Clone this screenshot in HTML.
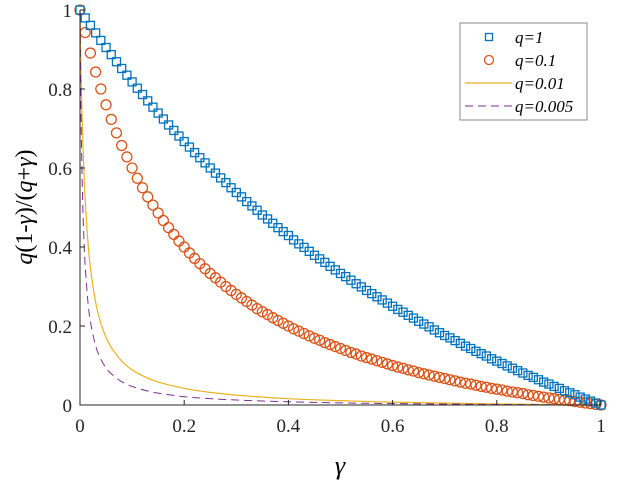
<!DOCTYPE html>
<html><head><meta charset="utf-8"><style>
html,body{margin:0;padding:0;background:#fff;}
svg{display:block;font-family:"Liberation Serif",serif;}
</style></head><body>
<svg id="chart" width="621" height="487" viewBox="0 0 621 487">
<g id="marks"></g>
<g id="axes"></g>
<g>
<rect x="460" y="23" width="127" height="97" fill="#fff" stroke="#888" stroke-width="1"/>
<rect x="485.5" y="33.5" width="7" height="7" fill="none" stroke="#0072BD" stroke-width="1.3"/>
<text x="515" y="43" font-size="17" font-style="italic">q=1</text>
<circle cx="489" cy="60" r="4.5" fill="none" stroke="#D95319" stroke-width="1.3"/>
<text x="515" y="66" font-size="17" font-style="italic">q=0.1</text>
<line x1="465" y1="83" x2="512" y2="83" stroke="#EDB120" stroke-width="1.3"/>
<text x="515" y="89" font-size="17" font-style="italic">q=0.01</text>
<line x1="465" y1="106" x2="512" y2="106" stroke="#7E2F8E" stroke-width="1" stroke-dasharray="8,5"/>
<text x="515" y="112" font-size="17" font-style="italic">q=0.005</text>
</g>
<text x="340" y="474" font-size="26" text-anchor="middle" font-style="italic">γ</text>
<text transform="translate(32,207) rotate(-90)" font-size="24" text-anchor="middle"><tspan font-style="italic">q</tspan>(1-<tspan font-style="italic">γ</tspan>)/(<tspan font-style="italic">q</tspan>+<tspan font-style="italic">γ</tspan>)</text>
</svg>
<script>
const markerGamma = [0,0.01,0.02,0.03,0.04,0.05,0.06,0.07,0.08,0.09,0.1,0.11,0.12,0.13,0.14,0.15,0.16,0.17,0.18,0.19,0.2,0.21,0.22,0.23,0.24,0.25,0.26,0.27,0.28,0.29,0.3,0.31,0.32,0.33,0.34,0.35,0.36,0.37,0.38,0.39,0.4,0.41,0.42,0.43,0.44,0.45,0.46,0.47,0.48,0.49,0.5,0.51,0.52,0.53,0.54,0.55,0.56,0.57,0.58,0.59,0.6,0.61,0.62,0.63,0.64,0.65,0.66,0.67,0.68,0.69,0.7,0.71,0.72,0.73,0.74,0.75,0.76,0.77,0.78,0.79,0.8,0.81,0.82,0.83,0.84,0.85,0.86,0.87,0.88,0.89,0.9,0.91,0.92,0.93,0.94,0.95,0.96,0.97,0.98,0.99,1];
const seriesQ1 = [1,0.980,0.961,0.942,0.923,0.905,0.887,0.869,0.852,0.835,0.818,0.802,0.786,0.770,0.754,0.739,0.724,0.709,0.695,0.681,0.667,0.653,0.639,0.626,0.613,0.6,0.587,0.575,0.563,0.550,0.538,0.527,0.515,0.504,0.493,0.481,0.471,0.460,0.449,0.439,0.429,0.418,0.408,0.399,0.389,0.379,0.370,0.361,0.351,0.342,0.333,0.325,0.316,0.307,0.299,0.290,0.282,0.274,0.266,0.258,0.25,0.242,0.235,0.227,0.220,0.212,0.205,0.198,0.190,0.183,0.176,0.170,0.163,0.156,0.149,0.143,0.136,0.130,0.124,0.117,0.111,0.105,0.099,0.093,0.087,0.081,0.075,0.070,0.064,0.058,0.053,0.047,0.042,0.036,0.031,0.026,0.020,0.015,0.010,0.005,0];
const seriesQ01 = [1,0.943,0.891,0.843,0.8,0.76,0.723,0.689,0.657,0.628,0.6,0.574,0.55,0.527,0.506,0.486,0.467,0.449,0.432,0.415,0.4,0.385,0.371,0.358,0.345,0.333,0.322,0.311,0.3,0.290,0.28,0.271,0.262,0.253,0.244,0.236,0.229,0.221,0.214,0.207,0.2,0.193,0.187,0.181,0.175,0.169,0.164,0.158,0.153,0.148,0.143,0.138,0.133,0.129,0.124,0.12,0.116,0.112,0.108,0.104,0.1,0.096,0.093,0.089,0.086,0.082,0.079,0.076,0.073,0.070,0.067,0.064,0.061,0.058,0.055,0.053,0.05,0.047,0.045,0.042,0.04,0.038,0.035,0.033,0.031,0.029,0.026,0.024,0.022,0.020,0.018,0.016,0.014,0.012,0.011,0.0087,0.0069,0.0051,0.0034,0.0017,0];
const lineGamma = [0,0.0005,0.001,0.002,0.003,0.005,0.0075,0.01,0.015,0.02,0.03,0.04,0.05,0.06,0.08,0.1,0.125,0.15,0.2,0.25,0.3,0.4,0.5,0.6,0.8,1];
const seriesQ001 = [1,0.956,0.916,0.844,0.783,0.684,0.590,0.519,0.417,0.348,0.260,0.207,0.171,0.146,0.111,0.089,0.071,0.058,0.042,0.032,0.025,0.016,0.011,0.0072,0.0027,0];
const seriesQ0005 = [1,0.916,0.845,0.732,0.645,0.521,0.420,0.351,0.264,0.211,0.150,0.116,0.094,0.079,0.059,0.047,0.037,0.030,0.021,0.016,0.0126,0.0081,0.0054,0.0036,0.0014,0];
const xTicks = [0,0.2,0.4,0.6,0.8,1];
const xTickLabels = ["0","0.2","0.4","0.6","0.8","1"];
const yTicks = [0,0.2,0.4,0.6,0.8,1];
const yTickLabels = ["0","0.2","0.4","0.6","0.8","1"];

const NS = "http://www.w3.org/2000/svg";
const X0=80, X1=601, Y0=405, Y1=10;
function xs(v){return X0+(X1-X0)*v;}
function ys(v){return Y0-(Y0-Y1)*v;}
function mk(tag, attrs){const e=document.createElementNS(NS,tag);for(const k in attrs)e.setAttribute(k,attrs[k]);return e;}
const marks=document.getElementById('marks'), axes=document.getElementById('axes');

function smoothPath(gs, vs){
  const p=gs.map((g,i)=>[xs(g),ys(vs[i])]);
  let d='M'+p[0][0].toFixed(2)+','+p[0][1].toFixed(2);
  for(let i=0;i<p.length-1;i++){
    const p0=p[Math.max(0,i-1)],p1=p[i],p2=p[i+1],p3=p[Math.min(p.length-1,i+2)];
    const c1x=p1[0]+(p2[0]-p0[0])/6, c1y=p1[1]+(p2[1]-p0[1])/6;
    const c2x=p2[0]-(p3[0]-p1[0])/6, c2y=p2[1]-(p3[1]-p1[1])/6;
    d+=` C${c1x.toFixed(2)},${c1y.toFixed(2)} ${c2x.toFixed(2)},${c2y.toFixed(2)} ${p2[0].toFixed(2)},${p2[1].toFixed(2)}`;
  }
  return d;
}
const l1=mk('path',{d:smoothPath(lineGamma,seriesQ001),fill:'none',stroke:'#EDB120','stroke-width':1.2});


marks.appendChild(l1);
const l2=mk('path',{d:smoothPath(lineGamma,seriesQ0005),fill:'none',stroke:'#7E2F8E','stroke-width':1,'stroke-dasharray':'8,5'});


marks.appendChild(l2);

markerGamma.forEach((g,i)=>{
  const c=mk('circle',{cx:xs(g),cy:ys(seriesQ01[i]),r:5,fill:'none',stroke:'#D95319','stroke-width':1.3});
  
  
  marks.appendChild(c);
});
markerGamma.forEach((g,i)=>{
  const r=mk('rect',{x:xs(g)-4,y:ys(seriesQ1[i])-4,width:8,height:8,fill:'none',stroke:'#0072BD','stroke-width':1.3});
  
  
  marks.appendChild(r);
});

const ax=mk('path',{d:`M${X0},${Y1} L${X0},${Y0} L${X1},${Y0}`,fill:'none',stroke:'#262626','stroke-width':1});


axes.appendChild(ax);
xTicks.forEach((v,i)=>{
  const t=mk('line',{x1:xs(v),y1:Y0,x2:xs(v),y2:Y0-5,stroke:'#262626'});
  
  
  axes.appendChild(t);
  const tx=mk('text',{x:xs(v),y:Y0+27,'font-size':19,'text-anchor':'middle',fill:'#262626'});
  tx.textContent=xTickLabels[i];
  
  
  axes.appendChild(tx);
});
yTicks.forEach((v,i)=>{
  const t=mk('line',{x1:X0,y1:ys(v),x2:X0+5,y2:ys(v),stroke:'#262626'});
  
  
  axes.appendChild(t);
  const tx=mk('text',{x:X0-8,y:ys(v)+7,'font-size':19,'text-anchor':'end',fill:'#262626'});
  tx.textContent=yTickLabels[i];
  
  
  axes.appendChild(tx);
});
</script>
</body></html>
